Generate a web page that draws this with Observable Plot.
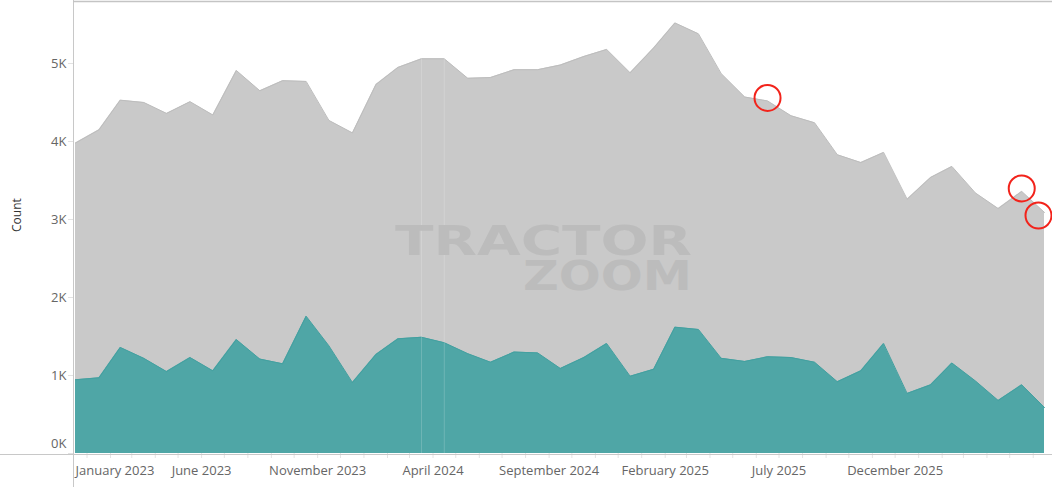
<!DOCTYPE html>
<html>
<head>
<meta charset="utf-8">
<script src="https://cdn.jsdelivr.net/npm/d3@7"></script>
<script src="https://cdn.jsdelivr.net/npm/@observablehq/plot@0.6"></script>
<style>
  html, body { margin: 0; padding: 0; background: #fff; }
  svg { display: block; }
</style>
</head>
<body>
<div id="chart"></div>
<script>
// ---- data ----
const months = [
  "2023-01","2023-02","2023-03","2023-04","2023-05","2023-06","2023-07","2023-08","2023-09","2023-10","2023-11","2023-12",
  "2024-01","2024-02","2024-03","2024-04","2024-05","2024-06","2024-07","2024-08","2024-09","2024-10","2024-11","2024-12",
  "2025-01","2025-02","2025-03","2025-04","2025-05","2025-06","2025-07","2025-08","2025-09","2025-10","2025-11","2025-12",
  "2026-01","2026-02","2026-03","2026-04","2026-05","2026-06","2026-07"
];
const totalCount = [
  3980,4150,4530,4500,4360,4510,4340,4910,4650,4780,
  4770,4270,4110,4730,4950,5060,5060,4810,4820,4920,
  4920,4980,5090,5180,4880,5200,5520,5380,4870,4570,
  4520,4330,4240,3830,3730,3860,3260,3540,3680,3340,
  3140,3360,3090
];
const subsetCount = [
  945,970,1360,1220,1050,1230,1060,1460,1210,1150,
  1760,1380,910,1270,1470,1490,1420,1280,1170,1300,
  1290,1090,1230,1410,990,1080,1620,1590,1220,1180,
  1240,1230,1170,920,1060,1410,770,880,1160,930,
  680,880,590
];
const yTicks = [0, 1000, 2000, 3000, 4000, 5000];
const xLabelMonths = ["2023-01","2023-06","2023-11","2024-04","2024-09","2025-02","2025-07","2025-12"];
const xLabelTexts = ["January 2023","June 2023","November 2023","April 2024","September 2024","February 2025","July 2025","December 2025"];
const circledMonths = ["2025-07","2026-06"];
const circledLast = ["2026-07"];
const seamMonths = ["2024-04","2024-05"];

// ---- build ----
const parse = s => { const [y, m] = s.split("-").map(Number); return new Date(Date.UTC(y, m - 1, 1)); };
const data = months.map((m, i) => ({ key: m, date: parse(m), total: totalCount[i], part: subsetCount[i] }));
const byKey = new Map(data.map(d => [d.key, d]));
const labels = xLabelMonths.map((m, i) => ({ date: parse(m), text: xLabelTexts[i] }));
const monthDates = months.map(parse);

const grey = "#c9c9c9";
const teal = "#4fa6a6";
const font = "'Open Sans', 'Noto Sans', sans-serif";

const svg = Plot.plot({
  width: 1052,
  height: 496,
  marginLeft: 73,
  marginRight: 0,
  marginTop: 2,
  marginBottom: 43,
  style: { fontFamily: font, fontSize: "13px", color: "#666", background: "#fff", overflow: "visible" },
  x: { type: "utc", domain: [monthDates[0], monthDates[monthDates.length - 1]], range: [75, 1044], axis: null },
  y: { domain: [0, 5782], axis: null },
  marks: [
    Plot.areaY(data, { x: "date", y: "total", fill: grey }),
    Plot.lineY(data, { x: "date", y: "total", stroke: "#bdbdbd", strokeWidth: 1 }),
    Plot.areaY(data, { x: "date", y: "part", fill: teal }),
    Plot.lineY(data, { x: "date", y: "part", stroke: "#43a0a0", strokeWidth: 1 }),
    Plot.ruleX(seamMonths.map(k => byKey.get(k)), { x: "date", y1: 0, y2: "total", stroke: "#ffffff", strokeOpacity: 0.18 }),
    // y axis tick marks and labels
    Plot.axisY({ ticks: yTicks, tickSize: 5, tickFormat: () => "", stroke: "#e2e2e2", strokeOpacity: 1 }),
    Plot.text(yTicks.filter(d => d > 0), { y: d => d, text: d => d / 1000 + "K", frameAnchor: "left", textAnchor: "end", dx: -7, fill: "#666" }),
    Plot.text(yTicks.filter(d => d === 0), { y: d => d, text: d => d / 1000 + "K", frameAnchor: "left", textAnchor: "end", dx: -7, dy: -10, fill: "#666" }),
    // x axis tick marks and labels
    Plot.axisX({ ticks: monthDates, tickSize: 5, tickFormat: () => "", dx: 11.5, stroke: "#e4e4e4", strokeOpacity: 1 }),
    Plot.text(labels.slice(0, 1), { x: "date", text: "text", frameAnchor: "bottom", textAnchor: "start", dy: 21, fill: "#666" }),
    Plot.text(labels.slice(1), { x: "date", text: "text", frameAnchor: "bottom", dx: 11.5, dy: 21, fill: "#666" }),
    // y axis title
    Plot.text(["Count"], { text: d => d, frameAnchor: "left", rotate: -90, dx: -56, dy: 4, fill: "#333", fontSize: 12 }),
    // highlighted points
    Plot.dot(circledMonths.map(k => byKey.get(k)), { x: "date", y: "total", r: 13, stroke: "#f2231b", strokeWidth: 2, fill: "none", dy: -3 }),
    Plot.dot(circledLast.map(k => byKey.get(k)), { x: "date", y: "total", r: 13, stroke: "#f2231b", strokeWidth: 2, fill: "none", dx: -6, dy: 3 })
  ]
});

const s = d3.select(svg);
// frame lines (decoration)
s.append("line").attr("x1", 0).attr("x2", 1052).attr("y1", 454.5).attr("y2", 454.5).attr("stroke", "#c8c8c8");
s.append("line").attr("x1", 73.5).attr("x2", 73.5).attr("y1", 0).attr("y2", 487).attr("stroke", "#c8c8c8");
s.append("line").attr("x1", 73).attr("x2", 1052).attr("y1", 1.5).attr("y2", 1.5).attr("stroke", "#c4c4c4").attr("stroke-width", 1.5);
// watermark (one text element, two lines)
const wm = s.append("text").attr("fill", "#bcbcbc").attr("font-family", "'DejaVu Sans', sans-serif")
  .attr("font-weight", "bold").attr("font-size", 41).attr("text-anchor", "end");
wm.append("tspan").attr("x", 692).attr("y", 255).attr("textLength", 297).attr("lengthAdjust", "spacingAndGlyphs").text("TRACTOR");
wm.append("tspan").attr("x", 692).attr("y", 290).attr("textLength", 169).attr("lengthAdjust", "spacingAndGlyphs").text("ZOOM");

document.getElementById("chart").appendChild(svg);
</script>
</body>
</html>
